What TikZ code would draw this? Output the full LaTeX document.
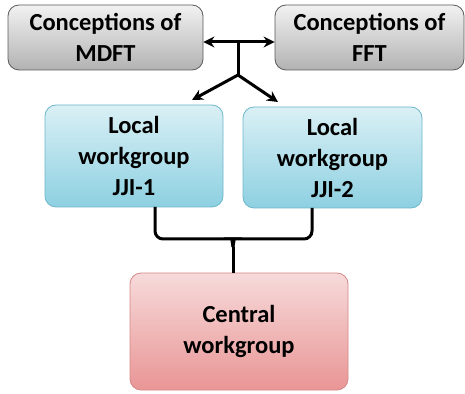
\documentclass[tikz,border=0pt]{standalone}
\usepackage{fontspec}
\setmainfont{Carlito}
\usetikzlibrary{arrows.meta}
\usetikzlibrary{calc}

\definecolor{greytop}{HTML}{F2F2F2}
\definecolor{greybot}{HTML}{B2B2B2}
\definecolor{greyline}{HTML}{5A5A5A}
\definecolor{bluetop}{HTML}{DAF0F5}
\definecolor{bluebot}{HTML}{8DD0E1}
\definecolor{blueline}{HTML}{6DB6CB}
\definecolor{redtop}{HTML}{F7DADA}
\definecolor{redbot}{HTML}{E99595}
\definecolor{redline}{HTML}{D58888}

\tikzset{
  box/.style={draw, rounded corners=11pt, align=center, inner sep=0pt,
    font=\fontsize{24.5}{31}\selectfont\bfseries, line width=0.8pt},
  greybox/.style={box, draw=greyline, top color=greytop, bottom color=greybot},
  bluebox/.style={box, draw=blueline, top color=bluetop, bottom color=bluebot},
  redbox/.style={box, draw=redline, top color=redtop, bottom color=redbot},
  link/.style={line width=3pt},
  tip/.style={-{Stealth[length=11pt,width=11pt]}}
}

\begin{document}
\begin{tikzpicture}[x=1pt,y=1pt]
    \useasboundingbox (0,0) rectangle (465,393);
    \node[greybox, minimum width=195, minimum height=65] (mdft) at (105.5,355.5) {Conceptions of\\MDFT};
    \node[greybox, minimum width=189, minimum height=65] (fft) at (369.5,355.5) {Conceptions of\\FFT};
    \node[bluebox, minimum width=178, minimum height=102] (jji1) at (134,237) {Local\\workgroup\\JJI-1};
    \node[bluebox, minimum width=179, minimum height=101] (jji2) at (332.5,235.5) {Local\\workgroup\\JJI-2};
    \node[redbox, minimum width=218, minimum height=117] (central) at (239,61.5) {Central\\workgroup};
    \coordinate (hub) at (238,351);
    \coordinate (split) at (238,318);
    \coordinate (tip1) at (192,293);
    \coordinate (tip2) at (278,291);
    \coordinate (brace) at (233,146);
    \draw[link, {Stealth[length=11pt,width=11pt]}-{Stealth[length=11pt,width=11pt]}] (mdft.east |- hub) -- (fft.west |- hub);
    \draw[link] (hub) -- (split);
    \draw[link, tip] (split) -- (tip1);
    \draw[link, tip] (split) -- (tip2);
    \draw[link, rounded corners=8pt] (155,186) -- (155,154) -- (226,154) to[out=0,in=90] (brace);
    \draw[link, rounded corners=8pt] (312,185) -- (312,154) -- (240,154) to[out=180,in=90] (brace);
    \draw[link] (brace) -- (brace |- central.north);
\end{tikzpicture}
\end{document}
